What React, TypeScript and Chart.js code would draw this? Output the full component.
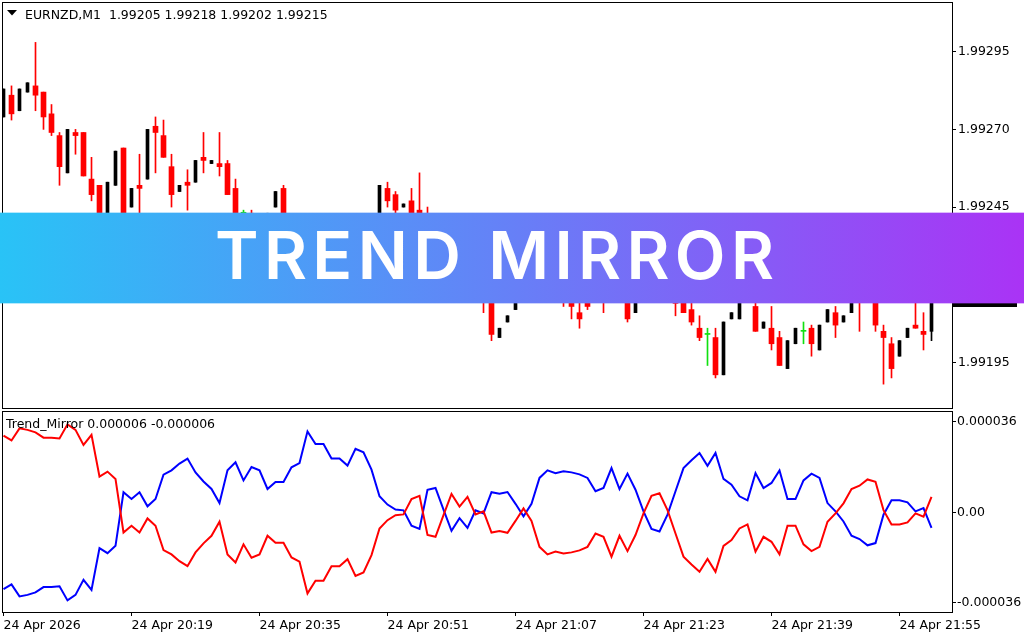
import React, { useEffect, useRef } from "react";
import { Chart, registerables } from "chart.js";

Chart.register(...registerables);

// ---------- text ----------
const SYMBOL_TITLE = "EURNZD,M1  1.99205 1.99218 1.99202 1.99215";
const INDICATOR_TITLE = "Trend_Mirror 0.000006 -0.000006";
const BANNER_TEXT = "TREND MIRROR";
const LAST_PRICE_LABEL = "1.99215";

// ---------- candles (M1 bars, 20:03 .. 21:59) ----------
const opens = [
  1.99274, 1.99281, 1.99276, 1.99282, 1.99284, 1.99282, 1.99275, 1.99268, 1.99256, 1.99269,
  1.99269, 1.99254, 1.99252, 1.99243, 1.99252, 1.99264, 1.99245, 1.99252, 1.99254, 1.99271,
  1.99268, 1.99258, 1.9925, 1.99253, 1.99253, 1.99261, 1.99259, 1.99259, 1.99259, 1.99251,
  1.99243, 1.99243, 1.9924, 1.99239, 1.99245, 1.99251, 1.99235, 1.99231, 1.99235, 1.99233,
  1.99228, 1.99232, 1.99237, 1.99234, 1.99238, 1.99235, 1.99239, 1.9924, 1.99251, 1.99249,
  1.99245, 1.99247, 1.99244, 1.9924, 1.99235, 1.99231, 1.99227, 1.99229, 1.99224, 1.99226,
  1.99221, 1.99217, 1.99203, 1.99208, 1.99212, 1.99216, 1.9922, 1.99223, 1.99221, 1.99224,
  1.99222, 1.99219, 1.99211, 1.99217, 1.99216, 1.99221, 1.99217, 1.9922, 1.99218, 1.99211,
  1.99216, 1.9922, 1.99218, 1.99222, 1.99218, 1.99217, 1.99212, 1.99206, 1.99204, 1.99203,
  1.99191, 1.99209, 1.99209, 1.99216, 1.99213, 1.99206, 1.99206, 1.99203, 1.99193, 1.99201,
  1.99205, 1.99206, 1.99199, 1.99208, 1.99211, 1.99208, 1.99211, 1.99218, 1.99215, 1.99219,
  1.99205, 1.99201, 1.99197, 1.99203, 1.99207, 1.99205, 1.99205,
];
const highs = [
  1.99283, 1.99284, 1.99283, 1.99285, 1.99298, 1.99282, 1.99278, 1.99269, 1.9927, 1.9927,
  1.99269, 1.99261, 1.99252, 1.99253, 1.99263, 1.99264, 1.99251, 1.99262, 1.9927, 1.99274,
  1.99273, 1.99262, 1.99252, 1.99257, 1.9926, 1.99269, 1.9926, 1.99269, 1.9926, 1.99254,
  1.99244, 1.99244, 1.99241, 1.99243, 1.9925, 1.99252, 1.99237, 1.99236, 1.99238, 1.99234,
  1.99233, 1.99239, 1.99238, 1.9924, 1.99239, 1.99241, 1.99242, 1.99252, 1.99253, 1.9925,
  1.99246, 1.99251, 1.99256, 1.99245, 1.99237, 1.99233, 1.99231, 1.9923, 1.99228, 1.99227,
  1.99223, 1.99219, 1.99206, 1.9921, 1.99217, 1.99222, 1.99225, 1.99226, 1.99226, 1.99225,
  1.99223, 1.9922, 1.99216, 1.99218, 1.9922, 1.99222, 1.99221, 1.99222, 1.99219, 1.99217,
  1.99221, 1.99222, 1.99223, 1.99224, 1.99219, 1.99218, 1.99215, 1.9921, 1.99206, 1.99206,
  1.99208, 1.99211, 1.99216, 1.99221, 1.99217, 1.99208, 1.99213, 1.99205, 1.99202, 1.99206,
  1.99208, 1.99207, 1.99207, 1.99212, 1.99213, 1.9921, 1.99217, 1.9922, 1.99221, 1.99221,
  1.99207, 1.99203, 1.99202, 1.99206, 1.99217, 1.99211, 1.99218,
];
const lows = [
  1.99274, 1.99273, 1.99276, 1.99282, 1.99276, 1.9927, 1.99268, 1.99252, 1.99256, 1.99262,
  1.99255, 1.99247, 1.99236, 1.99243, 1.99252, 1.99229, 1.99245, 1.99241, 1.99254, 1.99256,
  1.99261, 1.99245, 1.9925, 1.99244, 1.99253, 1.99256, 1.99259, 1.99255, 1.99249, 1.99237,
  1.9924, 1.99239, 1.99237, 1.99239, 1.99245, 1.99228, 1.99229, 1.9923, 1.99231, 1.99226,
  1.99227, 1.99231, 1.99232, 1.99233, 1.99233, 1.99234, 1.99237, 1.99239, 1.99245, 1.99242,
  1.99245, 1.9924, 1.99235, 1.99233, 1.99228, 1.99225, 1.99224, 1.99222, 1.99221, 1.99219,
  1.99211, 1.99202, 1.99203, 1.99208, 1.99212, 1.99215, 1.99219, 1.99219, 1.9922, 1.9922,
  1.99213, 1.99209, 1.99206, 1.99212, 1.99215, 1.99211, 1.99215, 1.99216, 1.99208, 1.99211,
  1.99215, 1.99216, 1.99217, 1.99217, 1.9921, 1.99211, 1.99207, 1.99202, 1.99194, 1.9919,
  1.99191, 1.99209, 1.99209, 1.99215, 1.99205, 1.99206, 1.99199, 1.99194, 1.99193, 1.99201,
  1.99201, 1.99197, 1.99199, 1.99208, 1.99203, 1.99208, 1.99211, 1.99205, 1.99215, 1.99205,
  1.99188, 1.9919, 1.99197, 1.99203, 1.99206, 1.99199, 1.99202,
];
const closes = [
  1.99283, 1.99275, 1.99283, 1.99285, 1.99281, 1.99274, 1.99269, 1.99258, 1.9927, 1.99268,
  1.99255, 1.99249, 1.99238, 1.99253, 1.99263, 1.99236, 1.99251, 1.99251, 1.9927, 1.99269,
  1.99261, 1.99249, 1.99252, 1.99252, 1.9926, 1.9926, 1.9926, 1.99258, 1.99249, 1.99239,
  1.99243, 1.99241, 1.99239, 1.99243, 1.9925, 1.99235, 1.99231, 1.99235, 1.99233, 1.99228,
  1.99232, 1.99237, 1.99234, 1.99238, 1.99235, 1.99239, 1.99242, 1.99252, 1.99247, 1.99244,
  1.99246, 1.99242, 1.99237, 1.99235, 1.99231, 1.99227, 1.99229, 1.99224, 1.99226, 1.99221,
  1.99217, 1.99204, 1.99206, 1.9921, 1.99216, 1.9922, 1.99223, 1.99221, 1.99224, 1.99222,
  1.99219, 1.99213, 1.99209, 1.99213, 1.99219, 1.99217, 1.9922, 1.99218, 1.99209, 1.99216,
  1.9922, 1.99218, 1.99222, 1.99219, 1.99214, 1.99211, 1.99208, 1.99203, 1.99204, 1.99191,
  1.99208, 1.99211, 1.99216, 1.99219, 1.99205, 1.99208, 1.99201, 1.99194, 1.99202, 1.99206,
  1.99205, 1.99201, 1.99207, 1.99212, 1.99207, 1.9921, 1.99217, 1.99215, 1.99219, 1.99207,
  1.99203, 1.99193, 1.99202, 1.99206, 1.99206, 1.99204, 1.99215,
];

// ---------- Trend_Mirror indicator (values in millionths) ----------
const mirrorRedMicro = [
  30.5, 28.6, 33.4, 32.8, 31.8, 29.7, 29.7, 29.4, 35.0, 32.8,
  26.8, 30.8, 14.2, 16.2, 13.3, -8.0, -5.3, -8.0, -2.4, -5.3,
  -15.0, -16.7, -19.4, -21.4, -15.9, -12.3, -9.3, -3.7, -16.7, -19.9,
  -12.7, -18.0, -16.7, -9.3, -12.1, -12.1, -17.9, -19.6, -32.2, -27.2,
  -27.2, -21.4, -21.4, -18.6, -25.3, -23.9, -17.0, -6.4, -3.1, -1.1,
  -0.8, 5.3, 6.6, -9.0, -9.7, -1.1, 7.3, 2.3, 6.2, -0.8,
  0.4, -8.0, -7.4, -8.1, -3.4, 1.6, -3.4, -13.7, -16.7, -15.6,
  -16.3, -15.9, -15.1, -13.7, -8.4, -9.7, -17.6, -9.3, -15.4, -9.0,
  -0.4, 6.6, 7.6, 0.9, -8.4, -17.6, -20.7, -23.6, -18.5, -23.6,
  -13.3, -11.0, -6.4, -4.8, -15.6, -9.7, -11.7, -16.7, -5.3, -5.3,
  -12.7, -15.4, -13.7, -3.7, -0.4, 3.6, 9.3, 10.6, 13.1, 12.2,
  0.9, -4.8, -4.8, -4.0, -0.4, -1.7, 6.2,
];
const mirrorBlueMicro = [
  -30.5, -28.6, -33.4, -32.8, -31.8, -29.7, -29.7, -29.4, -35.0, -32.8,
  -26.8, -30.8, -14.2, -16.2, -13.3, 8.0, 5.3, 8.0, 2.4, 5.3,
  15.0, 16.7, 19.4, 21.4, 15.9, 12.3, 9.3, 3.7, 16.7, 19.9,
  12.7, 18.0, 16.7, 9.3, 12.1, 12.1, 17.9, 19.6, 32.2, 27.2,
  27.2, 21.4, 21.4, 18.6, 25.3, 23.9, 17.0, 6.4, 3.1, 1.1,
  0.8, -5.3, -6.6, 9.0, 9.7, 1.1, -7.3, -2.3, -6.2, 0.8,
  -0.4, 8.0, 7.4, 8.1, 3.4, -1.6, 3.4, 13.7, 16.7, 15.6,
  16.3, 15.9, 15.1, 13.7, 8.4, 9.7, 17.6, 9.3, 15.4, 9.0,
  0.4, -6.6, -7.6, -0.9, 8.4, 17.6, 20.7, 23.6, 18.5, 23.6,
  13.3, 11.0, 6.4, 4.8, 15.6, 9.7, 11.7, 16.7, 5.3, 5.3,
  12.7, 15.4, 13.7, 3.7, 0.4, -3.6, -9.3, -10.6, -13.1, -12.2,
  -0.9, 4.8, 4.8, 4.0, 0.4, 1.7, -6.2,
];

// ---------- axes ----------
const timeTickIndex = [0, 16, 32, 48, 64, 80, 96, 112];
const timeTickLabels = [
  "24 Apr 2026", "24 Apr 20:19", "24 Apr 20:35", "24 Apr 20:51",
  "24 Apr 21:07", "24 Apr 21:23", "24 Apr 21:39", "24 Apr 21:55",
];
const priceTicks = [1.99195, 1.9922, 1.99245, 1.9927, 1.99295];
const indicatorTicks = [-0.000036, 0, 0.000036];
const indicatorTickLabels = ["-0.000036", "0.00", "0.000036"];

const FONT_FAMILY = "'DejaVu Sans', sans-serif";
const FONT_SIZE = 12.5;
const RED = "#ff0000";
const BLACK = "#000000";
const GREEN = "#10e010";
const X_MIN = -0.1875;
const X_MAX = 118.5625;

export default function App() {
  const mainRef = useRef<HTMLCanvasElement>(null);
  const indRef = useRef<HTMLCanvasElement>(null);

  useEffect(() => {
    if (!mainRef.current || !indRef.current) return;
    const n = Math.min(opens.length, highs.length, lows.length, closes.length);
    const idx = Array.from({ length: n }, (_, i) => i);
    const kind = idx.map((i) =>
      closes[i] > opens[i] ? "bull" : closes[i] < opens[i] ? "bear" : "doji"
    );
    const pick = (k: string, f: (i: number) => number[]) =>
      idx.filter((i) => kind[i] === k).map((i) => ({ x: i, y: f(i) }));

    const font = { family: FONT_FAMILY, size: FONT_SIZE };

    const mainDecor = {
      id: "mainDecor",
      afterDraw(chart: any) {
        const { ctx, chartArea: a, scales } = chart;
        ctx.save();
        // frame
        ctx.strokeStyle = "#000";
        ctx.lineWidth = 1;
        ctx.strokeRect(a.left + 0.5, a.top + 0.5, a.right - a.left, a.bottom - a.top - 1);
        // title
        ctx.fillStyle = "#000";
        ctx.beginPath();
        ctx.moveTo(7, 10);
        ctx.lineTo(17, 10);
        ctx.lineTo(12, 15.5);
        ctx.closePath();
        ctx.fill();
        ctx.font = `${FONT_SIZE}px ${FONT_FAMILY}`;
        ctx.textBaseline = "alphabetic";
        ctx.textAlign = "left";
        ctx.fillText(SYMBOL_TITLE, 25, 19);
        // last price box
        const yy = Math.round(scales.y.getPixelForValue(closes[n - 1]));
        ctx.fillStyle = "#000";
        ctx.fillRect(953, yy - 7, 64, 14);
        ctx.fillStyle = "#fff";
        ctx.textBaseline = "middle";
        ctx.fillText(LAST_PRICE_LABEL, 958, yy);
        // banner
        const W = chart.width;
        const g = ctx.createLinearGradient(0, 0, W, 0);
        g.addColorStop(0, "#29c3f6");
        g.addColorStop(0.5, "#6680f7");
        g.addColorStop(1, "#aa33f5");
        ctx.fillStyle = g;
        ctx.fillRect(0, 213, W, 90);
        ctx.globalAlpha = 0.35;
        ctx.fillRect(0, 212, W, 1);
        ctx.fillRect(0, 303, W, 1);
        ctx.globalAlpha = 1;
        ctx.fillStyle = "#ffffff";
        ctx.font = "600 66px Inter, 'Open Sans', sans-serif";
        ctx.textBaseline = "alphabetic";
        try { (ctx as any).letterSpacing = "0px"; } catch (e) {}
        const w0 = ctx.measureText(BANNER_TEXT).width;
        const ls = (559 - w0) / (BANNER_TEXT.length - 1);
        try { (ctx as any).letterSpacing = `${ls}px`; } catch (e) {}
        ctx.fillText(BANNER_TEXT, 215, 279);
        try { (ctx as any).letterSpacing = "0px"; } catch (e) {}
        ctx.restore();
      },
    };

    const indDecor = {
      id: "indDecor",
      afterDraw(chart: any) {
        const { ctx, chartArea: a } = chart;
        ctx.save();
        ctx.strokeStyle = "#000";
        ctx.lineWidth = 1;
        ctx.strokeRect(a.left + 0.5, a.top + 0.5, a.right - a.left, a.bottom - a.top);
        ctx.fillStyle = "#000";
        ctx.font = `${FONT_SIZE}px ${FONT_FAMILY}`;
        ctx.textBaseline = "alphabetic";
        ctx.textAlign = "left";
        ctx.fillText(INDICATOR_TITLE, 6, 18);
        ctx.restore();
      },
    };

    const bar = (label: string, data: any[], color: string, thickness: number, extra: any = {}) => ({
      label,
      data,
      backgroundColor: color,
      borderWidth: 0,
      barThickness: thickness,
      grouped: false,
      ...extra,
    });

    const main = new Chart(mainRef.current, {
      type: "bar",
      data: {
        datasets: [
          bar("bear body", pick("bear", (i) => [closes[i], opens[i]]), RED, 5),
          bar("bull body", pick("bull", (i) => [opens[i], closes[i]]), BLACK, 3),
          bar("doji body", pick("doji", (i) => [opens[i], closes[i]]), GREEN, 5, { minBarLength: 1 }),
          bar("bear wick", pick("bear", (i) => [lows[i], highs[i]]), RED, 1),
          bar("bull wick", pick("bull", (i) => [lows[i], highs[i]]), BLACK, 1),
          bar("doji wick", pick("doji", (i) => [lows[i], highs[i]]), GREEN, 1),
        ] as any,
      },
      options: {
        responsive: false,
        animation: false,
        events: [],
        layout: { padding: { left: 2, top: 2, right: 0, bottom: 1 } },
        plugins: { legend: { display: false }, tooltip: { enabled: false } },
        scales: {
          x: { type: "linear", min: X_MIN, max: X_MAX, display: false, offset: false },
          y: {
            type: "linear",
            position: "right",
            min: 1.9918,
            max: 1.99311,
            border: { display: false },
            grid: { drawOnChartArea: false, drawTicks: true, tickLength: 4, color: "#000" },
            ticks: {
              color: "#000",
              font,
              padding: 2,
              autoSkip: false,
              callback: (v: any) => Number(v).toFixed(5),
            },
            afterBuildTicks: (s: any) => {
              s.ticks = priceTicks.map((v) => ({ value: v }));
            },
            afterFit: (s: any) => {
              s.width = 72;
              s.paddingTop = 0;
              s.paddingBottom = 0;
            },
          },
        },
      } as any,
      plugins: [mainDecor],
    });

    const ind = new Chart(indRef.current, {
      type: "line",
      data: {
        datasets: [
          {
            label: "Mirror up",
            data: idx.map((i) => ({ x: i, y: mirrorRedMicro[i] * 1e-6 })),
            borderColor: RED,
            borderWidth: 2,
            pointRadius: 0,
            tension: 0,
          },
          {
            label: "Mirror down",
            data: idx.map((i) => ({ x: i, y: mirrorBlueMicro[i] * 1e-6 })),
            borderColor: "#0000ff",
            borderWidth: 2,
            pointRadius: 0,
            tension: 0,
          },
        ],
      },
      options: {
        responsive: false,
        animation: false,
        events: [],
        layout: { padding: { left: 2, top: 1, right: 0, bottom: 0 } },
        plugins: { legend: { display: false }, tooltip: { enabled: false } },
        scales: {
          x: {
            type: "linear",
            min: X_MIN,
            max: X_MAX,
            position: "bottom",
            border: { display: false },
            grid: { drawOnChartArea: false, drawTicks: true, tickLength: 4, color: "#000" },
            ticks: {
              color: "#000",
              font,
              align: "start",
              padding: 2,
              autoSkip: false,
              maxRotation: 0,
              minRotation: 0,
              callback: (_v: any, i: number) => timeTickLabels[i],
            },
            afterBuildTicks: (s: any) => {
              s.ticks = timeTickIndex.map((v) => ({ value: v }));
            },
            afterFit: (s: any) => {
              s.height = 28;
              s.paddingLeft = 0;
              s.paddingRight = 0;
            },
          },
          y: {
            type: "linear",
            position: "right",
            min: -0.0000396,
            max: 0.0000403,
            border: { display: false },
            grid: { drawOnChartArea: false, drawTicks: true, tickLength: 4, color: "#000" },
            ticks: {
              color: "#000",
              font,
              padding: 1,
              autoSkip: false,
              callback: (_v: any, i: number) => indicatorTickLabels[i],
            },
            afterBuildTicks: (s: any) => {
              s.ticks = indicatorTicks.map((v) => ({ value: v }));
            },
            afterFit: (s: any) => {
              s.width = 72;
              s.paddingTop = 0;
              s.paddingBottom = 0;
            },
          },
        },
      } as any,
      plugins: [indDecor],
    });

    return () => {
      main.destroy();
      ind.destroy();
    };
  }, []);

  return (
    <div
      style={{
        position: "fixed",
        left: 0,
        top: 0,
        width: 1024,
        height: 640,
        background: "#ffffff",
        overflow: "hidden",
      }}
    >
      <canvas
        ref={mainRef}
        width={1024}
        height={410}
        style={{ position: "absolute", left: 0, top: 0, display: "block" }}
      />
      <canvas
        ref={indRef}
        width={1024}
        height={230}
        style={{ position: "absolute", left: 0, top: 410, display: "block" }}
      />
    </div>
  );
}
